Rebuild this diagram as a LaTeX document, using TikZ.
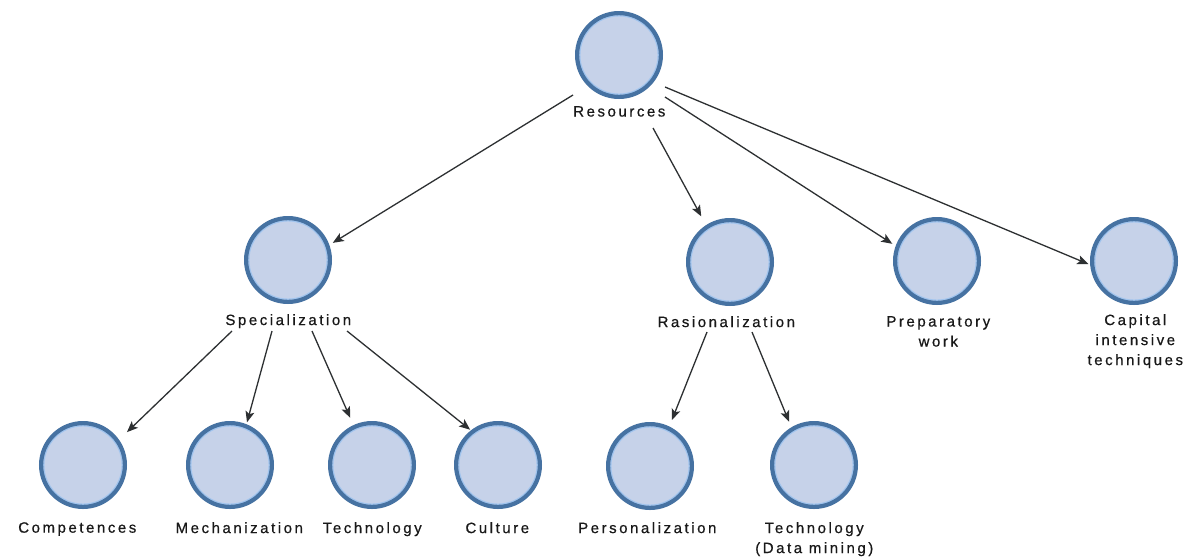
\documentclass[tikz,border=0pt]{standalone}
\usepackage{fontspec}
\setmainfont{Liberation Sans}
\usetikzlibrary{arrows.meta}
\definecolor{cfill}{RGB}{198,210,233}
\definecolor{cdraw}{RGB}{70,114,162}
\definecolor{cring}{RGB}{160,196,238}
\definecolor{carrow}{RGB}{45,48,50}
\definecolor{ctext}{RGB}{25,25,25}
\begin{document}
\begin{tikzpicture}[x=1pt,y=-1pt,
  circ/.style={circle,draw=cdraw,fill=cfill,line width=4.2pt,minimum size=83.8pt,inner sep=0pt,
    path picture={\draw[cring,line width=1.3pt] (path picture bounding box.center) circle (39.2pt);}},
  lab/.style={anchor=north,inner sep=0pt,align=center,text=ctext,
    font=\fontsize{15}{20}\selectfont\addfontfeature{LetterSpace=17,FakeBold=0.6}},
  arr/.style={draw=carrow,line width=1.3pt,-{Stealth[length=11pt,width=9pt,inset=2.5pt]}}]
\fill[white] (0,0) rectangle (1191,558);
\useasboundingbox (0,0) rectangle (1191,558);
% circles
\node[circ] (res)  at (619,55)  {};
\node[circ] (spec) at (288,260) {};
\node[circ] (ras)  at (730,262) {};
\node[circ] (prep) at (937,261) {};
\node[circ] (cap)  at (1134,261) {};
\node[circ] (comp) at (83,465)  {};
\node[circ] (mech) at (230,465) {};
\node[circ] (tech) at (372,465) {};
\node[circ] (cult) at (498,465) {};
\node[circ] (pers) at (650,466) {};
\node[circ] (tdm)  at (814,465) {};
% labels
\node[lab] (resL)  at (619.3,106) {Resources};
\node[lab] (specL) at (288.3,314) {Specialization};
\node[lab] (rasL)  at (726.3,316) {Rasionalization};
\node[lab] (prepL) at (938.3,316) {Preparatory\\work};
\node[lab] (capL)  at (1135.3,314) {Capital\\intensive\\techniques};
\node[lab] (compL) at (77.3,522)  {Competences};
\node[lab] (mechL) at (239.3,522) {Mechanization};
\node[lab] (techL) at (372.3,522) {Technology};
\node[lab] (cultL) at (497.3,522) {Culture};
\node[lab] (persL) at (647.3,522) {Personalization};
\node[lab] (tdmL)  at (814.3,522) {Technology\\(Data mining)};
% connectors
\draw[arr,shorten >=4pt]  ([shift={(-46.3,-11)}]resL.north) -- (spec.20.7);
\draw[arr,shorten >=10pt] ([shift={(33.7,22)}]resL.north) -- (ras.123.7);
\draw[arr,shorten >=4pt]  ([shift={(45.7,-9)}]resL.north) -- (prep.160.4);
\draw[arr,shorten >=2pt]  ([shift={(45.7,-19)}]resL.north) -- (cap.185);
\draw[arr,shorten >=11pt] ([shift={(-56.3,17)}]specL.north) -- (comp.35.4);
\draw[arr,shorten >=2pt]  ([shift={(-16.3,17)}]specL.north) -- (mech.68.4);
\draw[arr,shorten >=8pt]  ([shift={(23.7,17)}]specL.north) -- (tech.115);
\draw[arr,shorten >=1pt]  ([shift={(58.7,17)}]specL.north) -- (cult.128.7);
\draw[arr,shorten >=7pt]  ([shift={(-19.3,16)}]rasL.north) -- (pers.64.4);
\draw[arr,shorten >=6pt]  ([shift={(25.7,16)}]rasL.north) -- (tdm.121);
\end{tikzpicture}
\end{document}
